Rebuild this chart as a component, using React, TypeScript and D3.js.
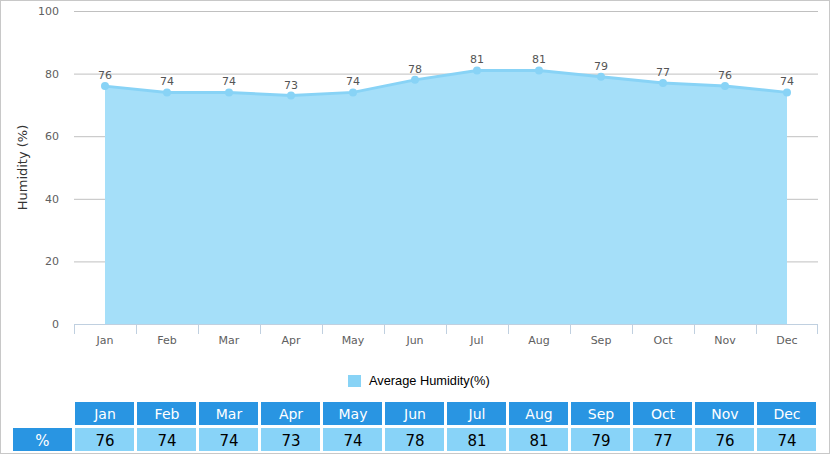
import React from "react";
import * as d3 from "d3";

const months = ["Jan", "Feb", "Mar", "Apr", "May", "Jun", "Jul", "Aug", "Sep", "Oct", "Nov", "Dec"];
const humidity = [76, 74, 74, 73, 74, 78, 81, 81, 79, 77, 76, 74];
const yTicks = [0, 20, 40, 60, 80, 100];
const seriesName = "Average Humidity(%)";
const yTitle = "Humidity (%)";
const rowLabel = "%";

const W = 830;
const H = 454;
const plotLeft = 74;
const plotRight = 818;
const plotTop = 11;
const plotBottom = 324;

export default function App() {
  const x = d3.scaleBand<string>().domain(months).range([plotLeft, plotRight]).padding(0);
  const y = d3.scaleLinear().domain([0, 100]).range([plotBottom, plotTop]);
  const cx = (m: string) => (x(m) ?? 0) + x.bandwidth() / 2;

  const area = d3
    .area<number>()
    .x((_, i) => cx(months[i]))
    .y0(y(0))
    .y1((d) => y(d));
  const line = d3
    .line<number>()
    .x((_, i) => cx(months[i]))
    .y((d) => y(d));

  const axisFont = "Verdana, 'DejaVu Sans', sans-serif";
  const tableFont = "'DejaVu Sans', Verdana, sans-serif";

  const cellW = x.bandwidth() - 3;
  const headY = 402;
  const rowH = 23;
  const valY = 428;

  return (
    <svg width={W} height={H} style={{ position: "absolute", left: 0, top: 0, background: "#fff" }}>
      <rect x={0.5} y={0.5} width={W - 1} height={H - 1} fill="#fff" stroke="#c8c8c8" />
      {yTicks.map((t) => (
        <g key={t}>
          {t > 0 && (
            <line x1={plotLeft} x2={plotRight} y1={y(t) + 0.5} y2={y(t) + 0.5} stroke="#c0c0c0" strokeWidth={1} />
          )}
          <text
            x={59}
            y={y(t) + 4}
            textAnchor="end"
            fontSize={11}
            fontFamily={axisFont}
            fill="#606060"
          >
            {t}
          </text>
        </g>
      ))}
      <text
        transform={`translate(27,${(plotTop + plotBottom) / 2}) rotate(-90)`}
        textAnchor="middle"
        fontSize={13}
        fontFamily={axisFont}
        fill="#333"
      >
        {yTitle}
      </text>
      <path d={area(humidity) ?? ""} fill="#a5dff9" />
      <path d={line(humidity) ?? ""} fill="none" stroke="#88d3f6" strokeWidth={3} />
      {humidity.map((v, i) => (
        <g key={i}>
          <circle cx={cx(months[i])} cy={y(v)} r={4} fill="#88d3f6" />
          <text
            x={cx(months[i])}
            y={y(v) - 7}
            textAnchor="middle"
            fontSize={11}
            fontFamily={axisFont}
            fill="#555"
          >
            {v}
          </text>
        </g>
      ))}
      <line x1={plotLeft} x2={plotRight} y1={plotBottom + 0.5} y2={plotBottom + 0.5} stroke="#c0d0e0" />
      {months.map((m) => (
        <line
          key={m}
          x1={(x(m) ?? 0) + 0.5}
          x2={(x(m) ?? 0) + 0.5}
          y1={plotBottom}
          y2={plotBottom + 10}
          stroke="#c0d0e0"
        />
      ))}
      <line x1={plotRight - 0.5} x2={plotRight - 0.5} y1={plotBottom} y2={plotBottom + 10} stroke="#c0d0e0" />
      {months.map((m) => (
        <text
          key={m}
          x={cx(m)}
          y={344}
          textAnchor="middle"
          fontSize={11}
          fontFamily={axisFont}
          fill="#606060"
        >
          {m}
        </text>
      ))}
      <rect x={348} y={375} width={13} height={12} fill="#88d3f6" />
      <text x={369} y={385} fontSize={12.8} fontFamily="'Liberation Sans', Arial, sans-serif" fill="#000">
        {seriesName}
      </text>
      {months.map((m, i) => (
        <g key={m}>
          <rect x={(x(m) ?? 0) + 1} y={headY} width={cellW} height={rowH} fill="#2995e2" />
          <text
            x={cx(m)}
            y={headY + 17}
            textAnchor="middle"
            fontSize={14}
            fontFamily={tableFont}
            fill="#fff"
          >
            {m}
          </text>
          <rect x={(x(m) ?? 0) + 1} y={valY} width={cellW} height={rowH} fill="#88d3f8" />
          <text
            x={cx(m)}
            y={valY + 17.5}
            textAnchor="middle"
            fontSize={15}
            fontFamily={tableFont}
            fill="#000"
          >
            {humidity[i]}
          </text>
        </g>
      ))}
      <rect x={13} y={valY} width={59} height={rowH} fill="#2995e2" />
      <text x={42.5} y={valY + 17.5} textAnchor="middle" fontSize={15} fontFamily={tableFont} fill="#fff">
        {rowLabel}
      </text>
    </svg>
  );
}
